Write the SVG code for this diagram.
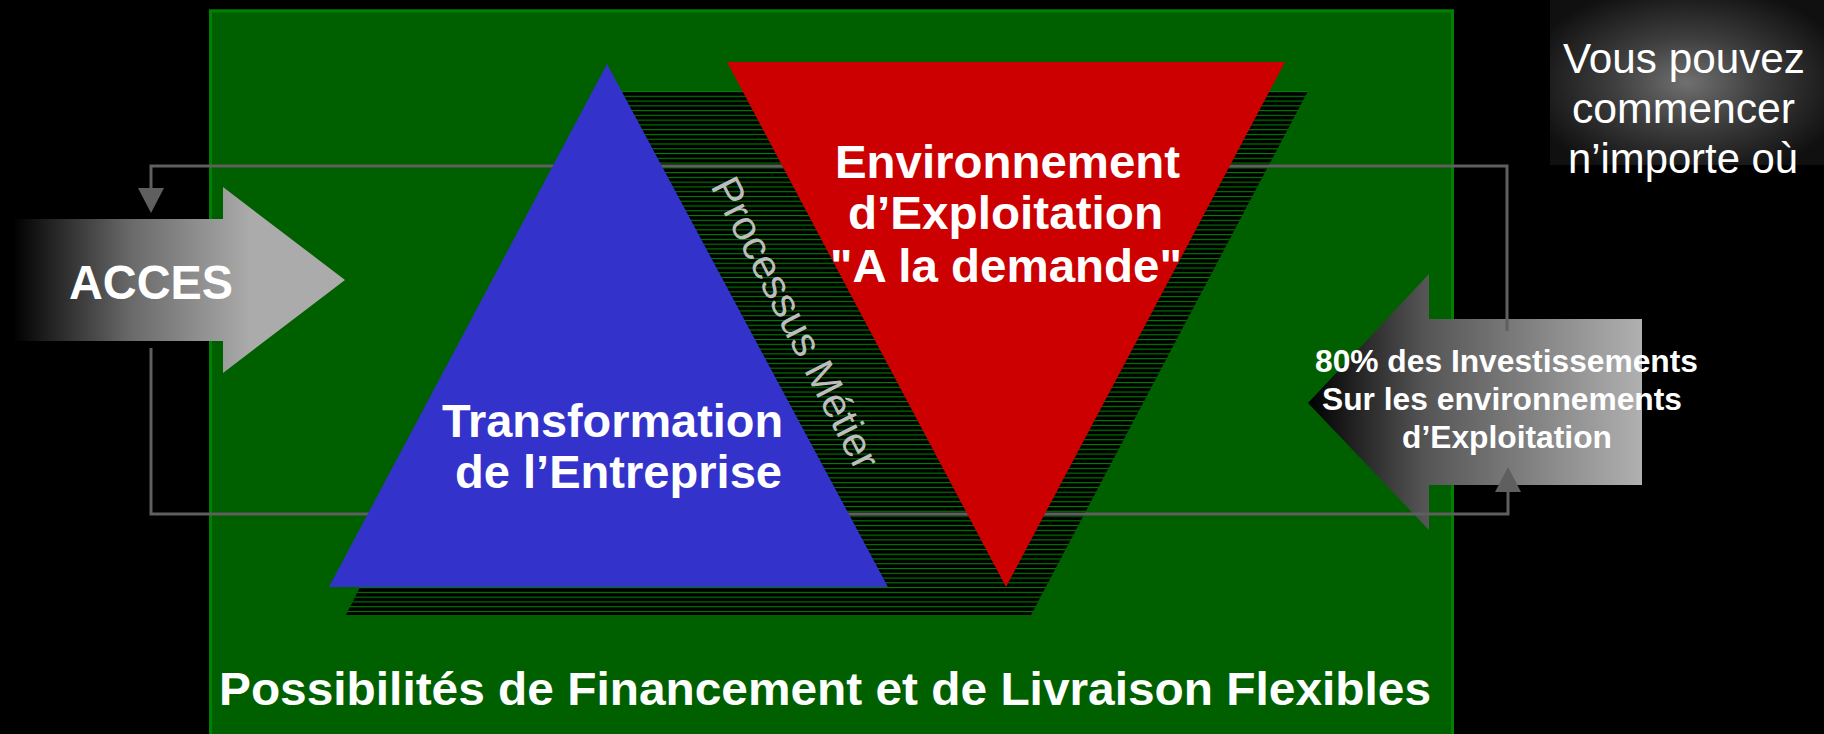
<svg xmlns="http://www.w3.org/2000/svg" width="1824" height="734" viewBox="0 0 1824 734">
<style>
.bold{font-family:"Liberation Sans",Arial,sans-serif;font-weight:bold;fill:#ffffff}
.reg{font-family:"Liberation Sans",Arial,sans-serif;font-weight:normal}
.conn{fill:none;stroke:#5f5f5f;stroke-width:3;stroke-linejoin:miter}
</style>
<defs>
<pattern id="stripes" patternUnits="userSpaceOnUse" x="0" y="91" width="20" height="4.77">
<rect x="0" y="0" width="20" height="4.77" fill="#000000"/>
<rect x="0" y="0" width="20" height="1.1" fill="#008000"/>
</pattern>
<linearGradient id="gAcces" gradientUnits="userSpaceOnUse" x1="13" y1="0" x2="250" y2="0">
<stop offset="0" stop-color="#000000"/>
<stop offset="0.5" stop-color="#6a6a6a"/>
<stop offset="1" stop-color="#ababab"/>
</linearGradient>
<linearGradient id="gInv" gradientUnits="userSpaceOnUse" x1="1308" y1="0" x2="1642" y2="0">
<stop offset="0" stop-color="#000000"/>
<stop offset="0.35" stop-color="#555555"/>
<stop offset="1" stop-color="#b0b0b0"/>
</linearGradient>
<radialGradient id="gGlow" cx="0.5" cy="0.5" r="0.6">
<stop offset="0" stop-color="#707070"/>
<stop offset="0.45" stop-color="#3e3e3e"/>
<stop offset="1" stop-color="#101010"/>
</radialGradient>
<marker id="ah" markerUnits="userSpaceOnUse" markerWidth="25" markerHeight="26" viewBox="0 0 25 26" refX="0" refY="13" orient="auto">
<path d="M0,0 L25,13 L0,26 Z" fill="#5f5f5f"/>
</marker>
</defs>

<rect x="0" y="0" width="1824" height="734" fill="#000000"/>

<g id="glow">
<rect x="1550" y="0" width="274" height="165" fill="url(#gGlow)"/>
</g>

<g id="financement">
<rect x="210.5" y="10.8" width="1242" height="740" fill="#006000" stroke="#008000" stroke-width="3"/>
<text class="bold" x="219" y="705" font-size="47" textLength="1212" lengthAdjust="spacingAndGlyphs">Possibilités de Financement et de Livraison Flexibles</text>
</g>

<g id="processus">
<polygon points="610,91 1308,91 1031,615 346,615" fill="url(#stripes)"/>
<text class="reg" x="710" y="186" font-size="41" fill="#bdbdbd" textLength="322" lengthAdjust="spacingAndGlyphs" transform="rotate(63 710 186)">Processus Métier</text>
</g>

<g id="investissements">
<polygon points="1308,403 1429,274 1429,319 1642,319 1642,485 1429,485 1429,530" fill="url(#gInv)"/>
</g>

<g id="acces">
<polygon points="13,219 223,219 223,187 345,280 223,373 223,341 13,341" fill="url(#gAcces)"/>
<text class="bold" x="69" y="299" font-size="48" textLength="164" lengthAdjust="spacingAndGlyphs">ACCES</text>
</g>

<g id="connectors">
<path class="conn" d="M1507,331 V166 H151 V188" marker-end="url(#ah)"/>
<path class="conn" d="M151,348 V514 H1508 V492" marker-end="url(#ah)"/>
</g>

<g id="transformation">
<polygon points="607,64 888,587 329,587" fill="#3333cc"/>
<text class="bold" x="442" y="437" font-size="47" textLength="341" lengthAdjust="spacingAndGlyphs">Transformation</text>
<text class="bold" x="455" y="488" font-size="47" textLength="327" lengthAdjust="spacingAndGlyphs">de l’Entreprise</text>
</g>

<g id="exploitation">
<polygon points="727,62 1285,62 1006,587" fill="#cc0000"/>
<text class="bold" x="835" y="178" font-size="47" textLength="345" lengthAdjust="spacingAndGlyphs">Environnement</text>
<text class="bold" x="848" y="229" font-size="47" textLength="315" lengthAdjust="spacingAndGlyphs">d’Exploitation</text>
<text class="bold" x="830" y="282" font-size="47" textLength="352" lengthAdjust="spacingAndGlyphs">"A la demande"</text>
</g>

<g id="investissements-label">
<text class="bold" x="1315" y="372" font-size="31" textLength="383" lengthAdjust="spacingAndGlyphs">80% des Investissements</text>
<text class="bold" x="1322" y="410" font-size="31" textLength="360" lengthAdjust="spacingAndGlyphs">Sur les environnements</text>
<text class="bold" x="1402" y="448" font-size="31" textLength="210" lengthAdjust="spacingAndGlyphs">d’Exploitation</text>
</g>

<g id="commencer">
<text class="reg" x="1563" y="73" font-size="42" fill="#ffffff" textLength="242" lengthAdjust="spacingAndGlyphs">Vous pouvez</text>
<text class="reg" x="1572" y="123" font-size="42" fill="#ffffff" textLength="223" lengthAdjust="spacingAndGlyphs">commencer</text>
<text class="reg" x="1568" y="173" font-size="42" fill="#ffffff" textLength="230" lengthAdjust="spacingAndGlyphs">n’importe où</text>
</g>
</svg>
